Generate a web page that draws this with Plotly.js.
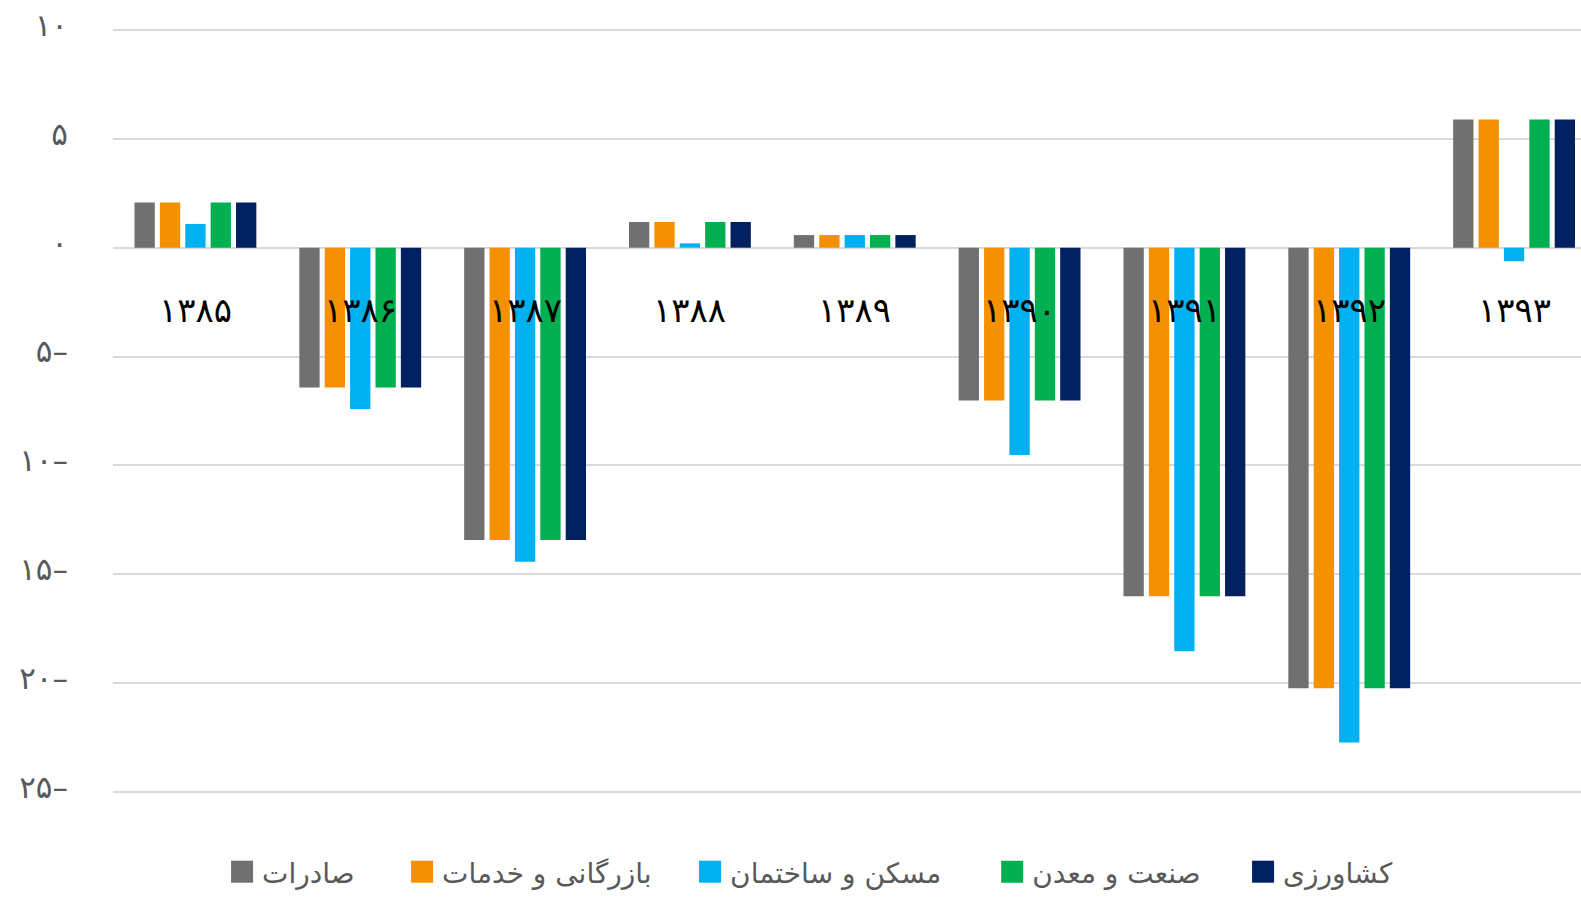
<!DOCTYPE html>
<html>
<head>
<meta charset="utf-8">
<script src="https://cdn.plot.ly/plotly-3.0.1.min.js"></script>
<style>html,body{margin:0;padding:0;background:#fff;}#chart{width:1581px;height:897px;}</style>
</head>
<body>
<div id="chart"></div>
<script>
const categories = ['۱۳۸۵','۱۳۸۶','۱۳۸۷','۱۳۸۸','۱۳۸۹','۱۳۹۰','۱۳۹۱','۱۳۹۲','۱۳۹۳'];
const seriesNames = ['صادرات','بازرگانی و خدمات','مسکن و ساختمان','صنعت و معدن','کشاورزی'];
const exportsVals     = [2.08, -6.42, -13.42, 1.18, 0.58, -7.02, -16.01, -20.23, 5.89];
const tradeVals       = [2.08, -6.42, -13.42, 1.18, 0.58, -7.02, -16.01, -20.23, 5.89];
const housingVals     = [1.09, -7.41, -14.42, 0.20, 0.58, -9.52, -18.53, -22.72, -0.62];
const industryVals    = [2.08, -6.42, -13.42, 1.18, 0.58, -7.02, -16.01, -20.23, 5.89];
const agricultureVals = [2.08, -6.42, -13.42, 1.18, 0.58, -7.02, -16.01, -20.23, 5.89];
const yTickVals = [10, 5, 0, -5, -10, -15, -20, -25];
const yTickText = ['۱۰','۵','۰','۵–','۱۰–','۱۵–','۲۰–','۲۵–'];

const colors = ['#707070','#F59100','#00B0F0','#00B050','#002060'];
const allVals = [exportsVals, tradeVals, housingVals, industryVals, agricultureVals];
const legendX = [0.0743, 0.1969, 0.3931, 0.5989, 0.7698];
const FONT = '"DejaVu Sans", sans-serif';
const legendIds = ['legend','legend2','legend3','legend4','legend5'];

const traces = allVals.map((v, i) => ({
  type: 'bar',
  name: seriesNames[i],
  x: categories,
  y: v,
  legend: legendIds[i],
  marker: {color: colors[i], line: {width: 0}},
  hoverinfo: 'x+y+name'
}));

const annotations = categories.map(c => ({
  x: c, y: -2.85, xref: 'x', yref: 'y',
  text: c, showarrow: false,
  font: {family: FONT, size: 34, color: '#000000'},
  xanchor: 'center', yanchor: 'middle'
}));

const layout = {
  width: 1581, height: 897,
  margin: {l: 113, r: 0, t: 28, b: 102},
  paper_bgcolor: '#ffffff', plot_bgcolor: '#ffffff',
  barmode: 'group', bargap: 0.23, bargroupgap: 0.2,
  showlegend: true,
  xaxis: {
    type: 'category', range: [-0.5, 8.406],
    showticklabels: false, showgrid: false, zeroline: false, showline: false, ticks: ''
  },
  yaxis: {
    range: [-25.09, 10.09], tickmode: 'array', tickvals: yTickVals, ticktext: yTickText,
    showgrid: true, gridcolor: '#D9D9D9', gridwidth: 1.5,
    zeroline: true, zerolinecolor: '#D9D9D9', zerolinewidth: 1.5,
    showline: false, ticks: '', ticklabelstandoff: 44, ticklabelshift: -5,
    tickfont: {family: FONT, size: 31, color: '#595959'}
  },
  annotations: annotations
};
legendIds.forEach((id, i) => {
  layout[id] = {
    orientation: 'h', x: legendX[i], xanchor: 'left', y: -0.1015, yanchor: 'middle',
    font: {family: FONT, size: 28, color: '#595959'},
    itemclick: false, itemdoubleclick: false, bgcolor: 'rgba(0,0,0,0)'
  };
});

Plotly.newPlot('chart', traces, layout, {displayModeBar: false}).then(() => {
  document.querySelectorAll('.legendpoints path').forEach(p => {
    p.setAttribute('d', 'M11,11H-11V-11H11Z');
  });
});
</script>
</body>
</html>
